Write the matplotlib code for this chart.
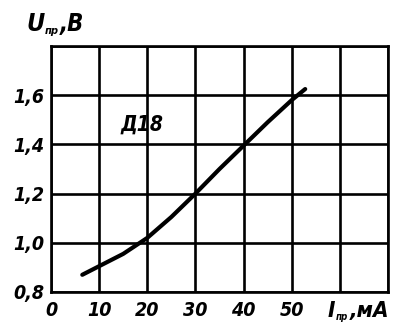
import matplotlib
matplotlib.use("Agg")
import matplotlib.pyplot as plt

# Data
current_ma = [6.5, 10, 15, 20, 25, 30, 35, 40, 45, 50, 52.8]
voltage_v = [0.87, 0.905, 0.955, 1.02, 1.105, 1.20, 1.30, 1.395, 1.49, 1.58, 1.625]
x_ticks = [0, 10, 20, 30, 40, 50, 60, 70]
x_tick_labels = ["0", "10", "20", "30", "40", "50", "", ""]
y_ticks = [0.8, 1.0, 1.2, 1.4, 1.6, 1.8]
y_tick_labels = ["0,8", "1,0", "1,2", "1,4", "1,6", ""]
curve_label = "Д18"

W, H = 393, 333
fig = plt.figure(figsize=(W / 100, H / 100), dpi=100)
fig.patch.set_facecolor("white")

L, R, T, B = 51, 388, 46, 292
ax = fig.add_axes([L / W, 1 - B / H, (R - L) / W, (B - T) / H])
ax.set_xlim(0, 70)
ax.set_ylim(0.8, 1.8)

for x in x_ticks:
    ax.axvline(x, color="black", lw=1.9, zorder=1)
for y in y_ticks:
    ax.axhline(y, color="black", lw=1.9, zorder=1)
for s in ax.spines.values():
    s.set_linewidth(1.9)

ax.plot(current_ma, voltage_v, color="black", lw=3.0, solid_capstyle="round", zorder=3)

font = dict(family=["DejaVu Sans"], style="italic", weight="bold", stretch="condensed")

ax.set_xticks(x_ticks)
ax.set_xticklabels(x_tick_labels, fontsize=14, **font)
ax.set_yticks(y_ticks)
ax.set_yticklabels(y_tick_labels, fontsize=14, **font)
ax.tick_params(length=0, pad=5)
for lab in ax.get_xticklabels():
    lab.set_y(-0.01)

ax.text(19.0, 1.48, curve_label, fontsize=15, ha="center", va="center", **font)

def ftext(px, py, s, size, **kw):
    fig.text(px / W, 1 - py / H, s, fontsize=size, **font, **kw)

# y-axis title
ftext(26, 24, "U", 18, ha="left", va="center")
ftext(45, 31, "пр", 8, ha="left", va="center")
ftext(60, 24, ",В", 17, ha="left", va="center")

# x-axis title
ftext(328, 311, "I", 16, ha="left", va="center")
ftext(336, 317, "пр", 7, ha="left", va="center")
ftext(350, 311, ",мА", 16, ha="left", va="center")

fig.savefig("out.png", dpi=100, facecolor="white")
